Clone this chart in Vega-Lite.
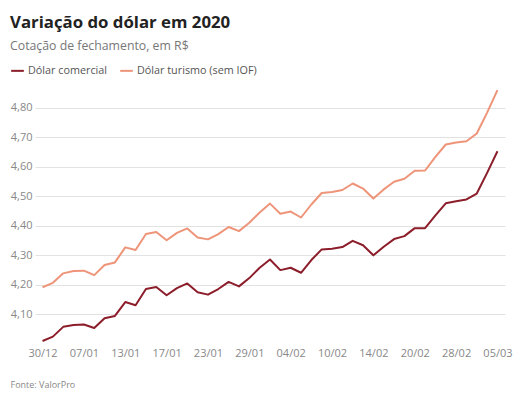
{
  "$schema": "https://vega.github.io/schema/vega-lite/v6.json",
  "width": 470,
  "height": 266,
  "autosize": {"type": "none"},
  "padding": {"left": 35, "top": 78, "right": 16, "bottom": 56},
  "background": "white",
  "config": {
    "font": "Open Sans",
    "view": {"stroke": null}
  },
  "title": {
    "text": "Variação do dólar em 2020",
    "subtitle": "Cotação de fechamento, em R$",
    "anchor": "start",
    "frame": "group",
    "dx": -25,
    "offset": 11,
    "fontSize": 16.8,
    "fontWeight": "bold",
    "color": "#222222",
    "subtitleFontSize": 12.3,
    "subtitleColor": "#777777",
    "subtitlePadding": 8
  },
  "data": {
    "values": [
      {"data": "30/12", "serie": "Dólar comercial", "cotacao": 4.010},
      {"data": "02/01", "serie": "Dólar comercial", "cotacao": 4.025},
      {"data": "03/01", "serie": "Dólar comercial", "cotacao": 4.058},
      {"data": "06/01", "serie": "Dólar comercial", "cotacao": 4.064},
      {"data": "07/01", "serie": "Dólar comercial", "cotacao": 4.066},
      {"data": "08/01", "serie": "Dólar comercial", "cotacao": 4.054},
      {"data": "09/01", "serie": "Dólar comercial", "cotacao": 4.087},
      {"data": "10/01", "serie": "Dólar comercial", "cotacao": 4.095},
      {"data": "13/01", "serie": "Dólar comercial", "cotacao": 4.142},
      {"data": "14/01", "serie": "Dólar comercial", "cotacao": 4.131},
      {"data": "15/01", "serie": "Dólar comercial", "cotacao": 4.186},
      {"data": "16/01", "serie": "Dólar comercial", "cotacao": 4.193},
      {"data": "17/01", "serie": "Dólar comercial", "cotacao": 4.165},
      {"data": "20/01", "serie": "Dólar comercial", "cotacao": 4.189},
      {"data": "21/01", "serie": "Dólar comercial", "cotacao": 4.205},
      {"data": "22/01", "serie": "Dólar comercial", "cotacao": 4.175},
      {"data": "23/01", "serie": "Dólar comercial", "cotacao": 4.167},
      {"data": "24/01", "serie": "Dólar comercial", "cotacao": 4.186},
      {"data": "27/01", "serie": "Dólar comercial", "cotacao": 4.210},
      {"data": "28/01", "serie": "Dólar comercial", "cotacao": 4.195},
      {"data": "29/01", "serie": "Dólar comercial", "cotacao": 4.223},
      {"data": "30/01", "serie": "Dólar comercial", "cotacao": 4.258},
      {"data": "31/01", "serie": "Dólar comercial", "cotacao": 4.286},
      {"data": "03/02", "serie": "Dólar comercial", "cotacao": 4.250},
      {"data": "04/02", "serie": "Dólar comercial", "cotacao": 4.258},
      {"data": "05/02", "serie": "Dólar comercial", "cotacao": 4.241},
      {"data": "06/02", "serie": "Dólar comercial", "cotacao": 4.284},
      {"data": "07/02", "serie": "Dólar comercial", "cotacao": 4.320},
      {"data": "10/02", "serie": "Dólar comercial", "cotacao": 4.322},
      {"data": "11/02", "serie": "Dólar comercial", "cotacao": 4.328},
      {"data": "12/02", "serie": "Dólar comercial", "cotacao": 4.349},
      {"data": "13/02", "serie": "Dólar comercial", "cotacao": 4.334},
      {"data": "14/02", "serie": "Dólar comercial", "cotacao": 4.300},
      {"data": "17/02", "serie": "Dólar comercial", "cotacao": 4.329},
      {"data": "18/02", "serie": "Dólar comercial", "cotacao": 4.355},
      {"data": "19/02", "serie": "Dólar comercial", "cotacao": 4.365},
      {"data": "20/02", "serie": "Dólar comercial", "cotacao": 4.392},
      {"data": "21/02", "serie": "Dólar comercial", "cotacao": 4.392},
      {"data": "26/02", "serie": "Dólar comercial", "cotacao": 4.435},
      {"data": "27/02", "serie": "Dólar comercial", "cotacao": 4.476},
      {"data": "28/02", "serie": "Dólar comercial", "cotacao": 4.483},
      {"data": "02/03", "serie": "Dólar comercial", "cotacao": 4.489},
      {"data": "03/03", "serie": "Dólar comercial", "cotacao": 4.509},
      {"data": "04/03", "serie": "Dólar comercial", "cotacao": 4.579},
      {"data": "05/03", "serie": "Dólar comercial", "cotacao": 4.652},
      {"data": "30/12", "serie": "Dólar turismo (sem IOF)", "cotacao": 4.192},
      {"data": "02/01", "serie": "Dólar turismo (sem IOF)", "cotacao": 4.207},
      {"data": "03/01", "serie": "Dólar turismo (sem IOF)", "cotacao": 4.239},
      {"data": "06/01", "serie": "Dólar turismo (sem IOF)", "cotacao": 4.247},
      {"data": "07/01", "serie": "Dólar turismo (sem IOF)", "cotacao": 4.248},
      {"data": "08/01", "serie": "Dólar turismo (sem IOF)", "cotacao": 4.233},
      {"data": "09/01", "serie": "Dólar turismo (sem IOF)", "cotacao": 4.267},
      {"data": "10/01", "serie": "Dólar turismo (sem IOF)", "cotacao": 4.276},
      {"data": "13/01", "serie": "Dólar turismo (sem IOF)", "cotacao": 4.327},
      {"data": "14/01", "serie": "Dólar turismo (sem IOF)", "cotacao": 4.318},
      {"data": "15/01", "serie": "Dólar turismo (sem IOF)", "cotacao": 4.372},
      {"data": "16/01", "serie": "Dólar turismo (sem IOF)", "cotacao": 4.379},
      {"data": "17/01", "serie": "Dólar turismo (sem IOF)", "cotacao": 4.351},
      {"data": "20/01", "serie": "Dólar turismo (sem IOF)", "cotacao": 4.376},
      {"data": "21/01", "serie": "Dólar turismo (sem IOF)", "cotacao": 4.391},
      {"data": "22/01", "serie": "Dólar turismo (sem IOF)", "cotacao": 4.360},
      {"data": "23/01", "serie": "Dólar turismo (sem IOF)", "cotacao": 4.354},
      {"data": "24/01", "serie": "Dólar turismo (sem IOF)", "cotacao": 4.372},
      {"data": "27/01", "serie": "Dólar turismo (sem IOF)", "cotacao": 4.396},
      {"data": "28/01", "serie": "Dólar turismo (sem IOF)", "cotacao": 4.382},
      {"data": "29/01", "serie": "Dólar turismo (sem IOF)", "cotacao": 4.410},
      {"data": "30/01", "serie": "Dólar turismo (sem IOF)", "cotacao": 4.445},
      {"data": "31/01", "serie": "Dólar turismo (sem IOF)", "cotacao": 4.475},
      {"data": "03/02", "serie": "Dólar turismo (sem IOF)", "cotacao": 4.441},
      {"data": "04/02", "serie": "Dólar turismo (sem IOF)", "cotacao": 4.448},
      {"data": "05/02", "serie": "Dólar turismo (sem IOF)", "cotacao": 4.428},
      {"data": "06/02", "serie": "Dólar turismo (sem IOF)", "cotacao": 4.472},
      {"data": "07/02", "serie": "Dólar turismo (sem IOF)", "cotacao": 4.511},
      {"data": "10/02", "serie": "Dólar turismo (sem IOF)", "cotacao": 4.514},
      {"data": "11/02", "serie": "Dólar turismo (sem IOF)", "cotacao": 4.521},
      {"data": "12/02", "serie": "Dólar turismo (sem IOF)", "cotacao": 4.543},
      {"data": "13/02", "serie": "Dólar turismo (sem IOF)", "cotacao": 4.526},
      {"data": "14/02", "serie": "Dólar turismo (sem IOF)", "cotacao": 4.492},
      {"data": "17/02", "serie": "Dólar turismo (sem IOF)", "cotacao": 4.523},
      {"data": "18/02", "serie": "Dólar turismo (sem IOF)", "cotacao": 4.549},
      {"data": "19/02", "serie": "Dólar turismo (sem IOF)", "cotacao": 4.559},
      {"data": "20/02", "serie": "Dólar turismo (sem IOF)", "cotacao": 4.586},
      {"data": "21/02", "serie": "Dólar turismo (sem IOF)", "cotacao": 4.587},
      {"data": "26/02", "serie": "Dólar turismo (sem IOF)", "cotacao": 4.633},
      {"data": "27/02", "serie": "Dólar turismo (sem IOF)", "cotacao": 4.675},
      {"data": "28/02", "serie": "Dólar turismo (sem IOF)", "cotacao": 4.682},
      {"data": "02/03", "serie": "Dólar turismo (sem IOF)", "cotacao": 4.686},
      {"data": "03/03", "serie": "Dólar turismo (sem IOF)", "cotacao": 4.712},
      {"data": "04/03", "serie": "Dólar turismo (sem IOF)", "cotacao": 4.783},
      {"data": "05/03", "serie": "Dólar turismo (sem IOF)", "cotacao": 4.859}
    ]
  },
  "mark": {"type": "line", "strokeWidth": 2, "strokeJoin": "round"},
  "encoding": {
    "x": {
      "field": "data",
      "type": "ordinal",
      "sort": null,
      "scale": {"type": "point", "padding": 0.73},
      "axis": {
        "values": ["30/12", "07/01", "13/01", "17/01", "23/01", "29/01", "04/02", "10/02", "14/02", "20/02", "28/02", "05/03"],
        "labelAngle": 0,
        "ticks": false,
        "domain": false,
        "grid": false,
        "labelPadding": 3,
        "labelFontSize": 11,
        "labelColor": "#888888",
        "title": "Fonte: ValorPro",
        "titleFontSize": 9,
        "titleFontWeight": "normal",
        "titleColor": "#888888",
        "titleAnchor": "start",
        "titleAlign": "left",
        "titleBaseline": "alphabetic",
        "titleX": -25,
        "titleY": 43
      }
    },
    "y": {
      "field": "cotacao",
      "type": "quantitative",
      "scale": {"domain": [4.0, 4.9], "nice": false, "zero": false},
      "axis": {
        "values": [4.1, 4.2, 4.3, 4.4, 4.5, 4.6, 4.7, 4.8],
        "labelExpr": "replace(format(datum.value, '.2f'), '.', ',')",
        "ticks": false,
        "domain": false,
        "grid": true,
        "gridColor": "#e2e2e2",
        "gridWidth": 1,
        "labelPadding": 3,
        "labelFontSize": 11,
        "labelColor": "#888888",
        "title": null
      }
    },
    "color": {
      "field": "serie",
      "type": "nominal",
      "scale": {
        "domain": ["Dólar comercial", "Dólar turismo (sem IOF)"],
        "range": ["#8c1d2a", "#ee9479"]
      },
      "legend": {
        "title": null,
        "orient": "none",
        "direction": "horizontal",
        "legendX": -25,
        "legendY": -15,
        "symbolType": "stroke",
        "symbolStrokeWidth": 2,
        "symbolSize": 160,
        "labelFontSize": 10.8,
        "labelColor": "#555555",
        "labelOffset": 3,
        "columnPadding": 8
      }
    }
  }
}
